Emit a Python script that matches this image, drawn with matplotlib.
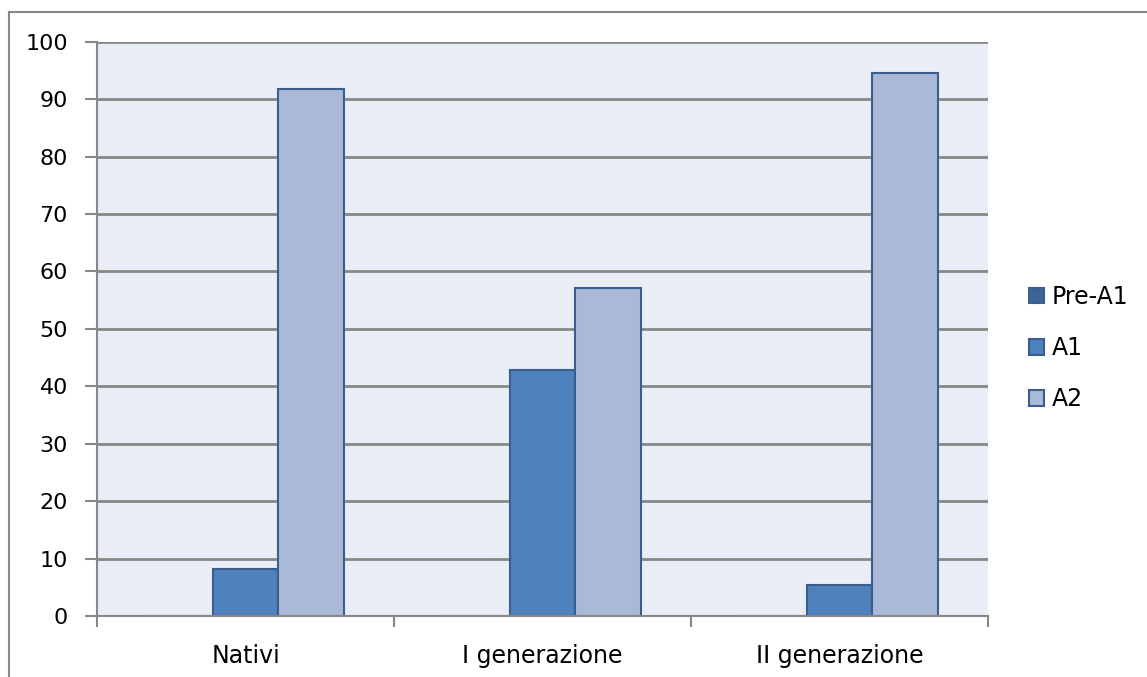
import matplotlib
matplotlib.use("Agg")
import matplotlib.pyplot as plt
import numpy as np
from matplotlib.lines import Line2D

categories = ["Nativi", "I generazione", "II generazione"]
series_names = ["Pre-A1", "A1", "A2"]
pre_a1 = [0.0, 0.0, 0.0]
a1 = [8.2, 42.9, 5.4]
a2 = [91.8, 57.1, 94.6]

fill_colors = ["#3C6494", "#4F81BD", "#AAB9D7"]
edge_color = "#3A5F8F"
grid_color = "#878787"
bg_color = "#E9EDF5"

plt.rcParams['font.family'] = ['DejaVu Sans']

fig = plt.figure(figsize=(11.47, 6.77), dpi=100)
ax = fig.add_axes([97 / 1147, 61 / 677, 891 / 1147, 574.3 / 677])
ax.set_facecolor(bg_color)

x = np.arange(len(categories))
width = 0.222
for i, (name, vals) in enumerate(zip(series_names, [pre_a1, a1, a2])):
    ax.bar(x + (i - 1) * width, vals, width, color=fill_colors[i],
           edgecolor=edge_color, linewidth=1.5, label=name, zorder=2)

ax.set_xlim(-0.5, 2.5)
ax.set_ylim(0, 100)
ax.set_yticks(np.arange(0, 101, 10))
ax.yaxis.grid(True, color=grid_color, linewidth=2, zorder=1)
ax.set_axisbelow(True)

ax.set_xticks(x)
ax.set_xticklabels(categories)
ax.set_xticks(np.arange(-0.5, 3, 1), minor=True)
ax.tick_params(axis='x', which='major', length=0, pad=20, labelsize=17, colors='black')
ax.tick_params(axis='x', which='minor', length=8, width=1.5, color=grid_color, direction='out')
ax.tick_params(axis='y', length=9, width=1.5, color=grid_color, direction='out', pad=12,
               labelsize=16)

for s in ["top", "right"]:
    ax.spines[s].set_visible(False)
for s in ["left", "bottom"]:
    ax.spines[s].set_color(grid_color)
    ax.spines[s].set_linewidth(1.5)
    ax.spines[s].set_zorder(3)

handles = [plt.Rectangle((0, 0), 1, 1, facecolor=fill_colors[i], edgecolor=edge_color,
                         linewidth=1.5) for i in range(3)]
fig.legend(handles, series_names, loc='center left', bbox_to_anchor=(1029 / 1147, 1 - 348 / 677),
           frameon=False, fontsize=17, handlelength=0.65, handleheight=0.65,
           handletextpad=0.3, labelspacing=1.15, borderaxespad=0, borderpad=0)

# outer chart frame (cropped at right and bottom)
fig.add_artist(Line2D([9 / 1147, 1.0], [1 - 12 / 677, 1 - 12 / 677], color=grid_color, linewidth=1.5))
fig.add_artist(Line2D([9 / 1147, 9 / 1147], [0.0, 1 - 12 / 677], color=grid_color, linewidth=1.5))

fig.savefig("out.png", dpi=100)
